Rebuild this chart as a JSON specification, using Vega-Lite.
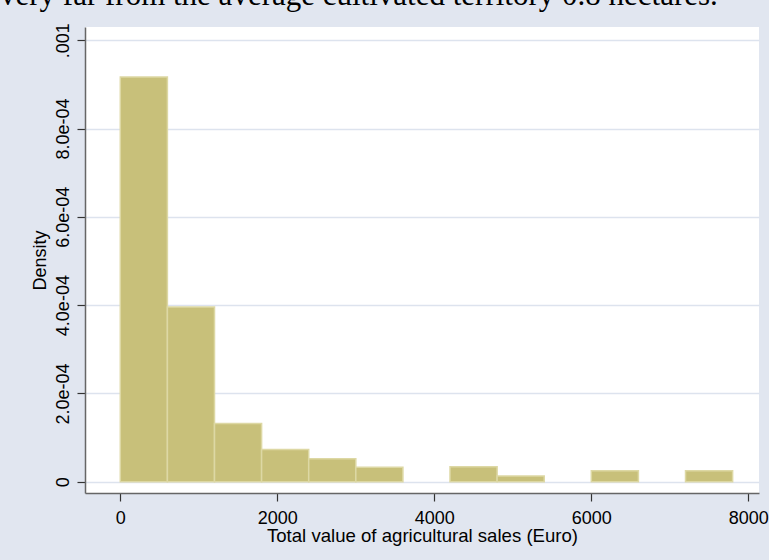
{
  "$schema": "https://vega.github.io/schema/vega-lite/v6.json",
  "width": 674,
  "height": 466,
  "autosize": {"type": "none"},
  "padding": {"left": 85, "top": 27, "right": 10, "bottom": 67},
  "background": "#E1E6F0",
  "view": {"fill": "white", "stroke": null},
  "title": {
    "text": "very far from the average cultivated territory 0.8 hectares.",
    "font": "Liberation Serif",
    "fontSize": 31,
    "fontWeight": "normal",
    "color": "black",
    "anchor": "start",
    "frame": "group",
    "baseline": "alphabetic",
    "offset": -13,
    "dx": -85
  },
  "data": {
    "values": [
      {"lo": 0, "hi": 600, "density": 0.000917},
      {"lo": 600, "hi": 1200, "density": 0.000396},
      {"lo": 1200, "hi": 1800, "density": 0.000132},
      {"lo": 1800, "hi": 2400, "density": 0.000073},
      {"lo": 2400, "hi": 3000, "density": 0.000052},
      {"lo": 3000, "hi": 3600, "density": 0.000033},
      {"lo": 4200, "hi": 4800, "density": 0.000034},
      {"lo": 4800, "hi": 5400, "density": 0.000013},
      {"lo": 6000, "hi": 6600, "density": 0.000025},
      {"lo": 7200, "hi": 7800, "density": 0.000025}
    ]
  },
  "mark": {"type": "rect", "fill": "#C8C07A", "stroke": "#DDD8A4", "strokeWidth": 1.5},
  "encoding": {
    "x": {
      "field": "lo",
      "type": "quantitative",
      "scale": {"domain": [-449.7, 8136], "nice": false, "zero": false},
      "axis": {
        "values": [0, 2000, 4000, 6000, 8000],
        "format": "d",
        "title": "Total value of agricultural sales (Euro)",
        "grid": false,
        "domainColor": "#666666",
        "domainWidth": 1.5,
        "tickColor": "#333333",
        "tickSize": 8,
        "tickWidth": 1.2,
        "labelFont": "Liberation Sans",
        "labelFontSize": 18,
        "labelColor": "black",
        "labelBaseline": "alphabetic",
        "labelPadding": 22,
        "labelFlush": false,
        "labelOverlap": false,
        "titleFont": "Liberation Sans",
        "titleFontSize": 18.6,
        "titleFontWeight": "normal",
        "titleColor": "black",
        "titleBaseline": "alphabetic",
        "titleY": 48
      }
    },
    "x2": {"field": "hi"},
    "y": {
      "field": "density",
      "type": "quantitative",
      "scale": {"domain": [-0.0000256, 0.00103], "nice": false, "zero": false},
      "axis": {
        "values": [0, 0.0002, 0.0004, 0.0006, 0.0008, 0.001],
        "labelExpr": "datum.value < 0.00001 ? '0' : datum.value > 0.0009 ? '.001' : replace(format(datum.value, '.1e'), 'e-4', 'e-04')",
        "title": "Density",
        "grid": true,
        "gridColor": "#DDE3EE",
        "gridWidth": 1.5,
        "domainColor": "#666666",
        "domainWidth": 1.5,
        "tickColor": "#333333",
        "tickSize": 8,
        "tickWidth": 1.2,
        "labelFont": "Liberation Sans",
        "labelFontSize": 18,
        "labelColor": "black",
        "labelAngle": -90,
        "labelAlign": "center",
        "labelBaseline": "alphabetic",
        "labelPadding": 9,
        "labelFlush": false,
        "labelOverlap": false,
        "titleFont": "Liberation Sans",
        "titleFontSize": 18,
        "titleFontWeight": "normal",
        "titleColor": "black",
        "titleAngle": -90,
        "titleAlign": "center",
        "titleBaseline": "alphabetic",
        "titleX": -40,
        "titleY": 233
      }
    },
    "y2": {"datum": 0}
  }
}
